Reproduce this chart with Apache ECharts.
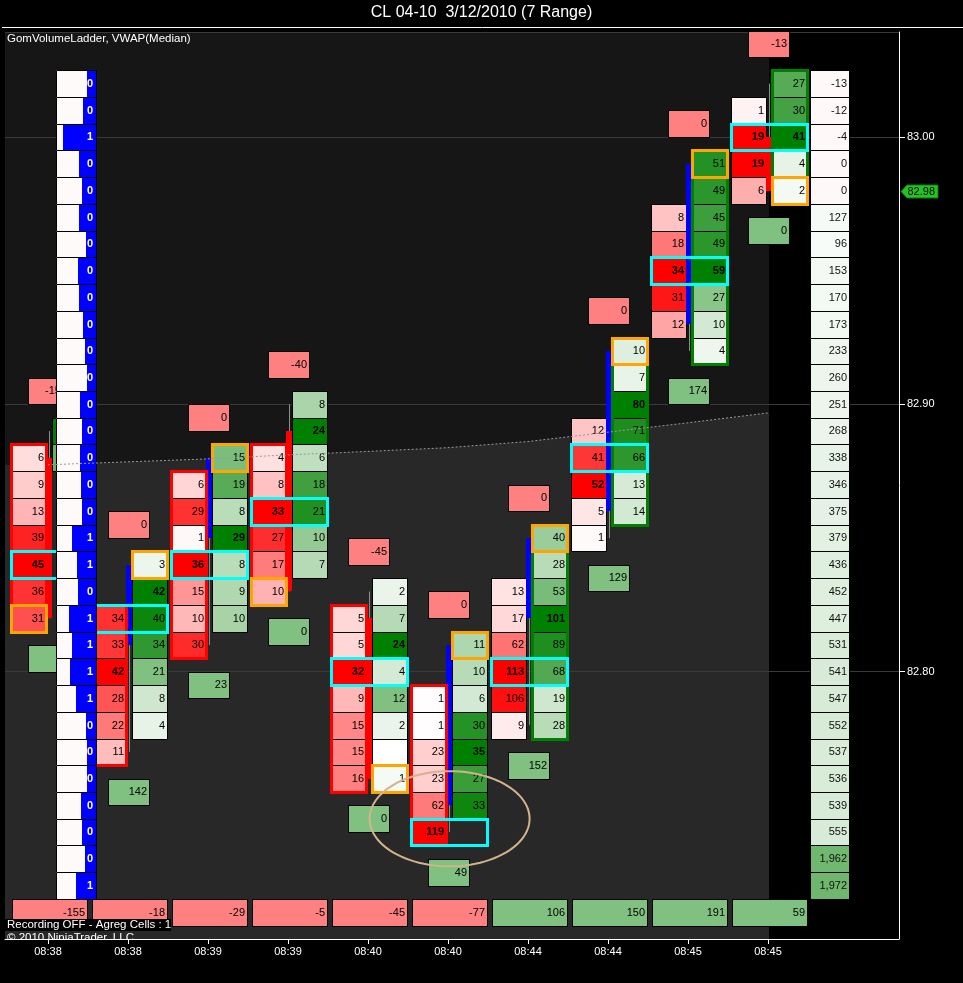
<!DOCTYPE html>
<html>
<head>
<meta charset="utf-8">
<title>CL 04-10 GomVolumeLadder</title>
<script src="https://cdn.jsdelivr.net/npm/echarts@6.0.0/dist/echarts.min.js"></script>
<style>
html,body{margin:0;padding:0;background:#000;overflow:hidden;}
#chart{width:963px;height:983px;}
</style>
</head>
<body>
<div id="chart"></div>
<script>
// ---------------- data ----------------
const barTimes = ['08:38','08:38','08:39','08:39','08:40','08:40','08:44','08:44','08:45','08:45'];
const barOpen  = [82.88, 82.81, 82.85, 82.89, 82.82, 82.75, 82.82, 82.86, 82.93, 83.00];
const barHigh  = [82.89, 82.84, 82.88, 82.90, 82.83, 82.81, 82.85, 82.92, 82.99, 83.02];
const barLow   = [82.82, 82.77, 82.81, 82.83, 82.76, 82.74, 82.78, 82.85, 82.92, 82.98];
const barClose = [82.82, 82.84, 82.88, 82.83, 82.76, 82.81, 82.85, 82.92, 82.99, 82.98];

// bid / ask volume at each price, listed from the bar's high downwards (null = nothing traded)
const bidVolume = [
  [null, 6, 9, 13, 39, 45, 36, 31],
  [null, null, 34, 33, 42, 28, 22, 11],
  [null, 6, 29, 1, 36, 15, 10, 30],
  [null, null, 4, 8, 33, 27, 17, 10],
  [null, 5, 5, 32, 9, 15, 15, 16],
  [null, null, 1, 1, 23, 23, 62, 119],
  [null, null, 13, 17, 62, 113, 106, 9],
  [null, null, null, 12, 41, 52, 5, 1],
  [null, null, 8, 18, 34, 31, 12, null],
  [null, 1, 19, 19, 6]
];
const askVolume = [
  [5, 3, null, null, null, null, null, null],
  [3, 42, 40, 34, 21, 8, 4, null],
  [15, 19, 8, 29, 8, 9, 10, null],
  [8, 24, 6, 18, 21, 10, 7, null],
  [2, 7, 24, 4, 12, 2, 0, 1],
  [11, 10, 6, 30, 35, 27, 33, null],
  [40, 28, 53, 101, 89, 68, 19, 28],
  [10, 7, 80, 71, 66, 13, 14, null],
  [51, 49, 45, 49, 59, 27, 10, 4],
  [27, 30, 41, 4, 2]
];
const lastTradeSide   = ['bid','ask','ask','bid','ask','ask','ask','ask','ask','ask'];
const aboveBarValues  = [-155, 0, 0, -40, -45, 0, 0, 0, 0, -13];
const belowBarValues  = [0, 142, 23, 0, 0, 49, 152, 129, 174, 0];
const barDelta        = [-155, -18, -29, -5, -45, -77, 106, 150, 191, 59];
const vwapMedian      = [82.8774, 82.8785, 82.8796, 82.8811, 82.8824, 82.8838, 82.8861, 82.8896, 82.8931, 82.8968];

const ladderPrices = [83.02, 83.01, 83.00, 82.99, 82.98, 82.97, 82.96, 82.95, 82.94, 82.93, 82.92,
  82.91, 82.90, 82.89, 82.88, 82.87, 82.86, 82.85, 82.84, 82.83, 82.82, 82.81, 82.80, 82.79,
  82.78, 82.77, 82.76, 82.75, 82.74, 82.73, 82.72];
const leftLadderValues = [0, 0, 1, 0, 0, 0, 0, 0, 0, 0, 0, 0, 0, 0, 0, 0, 0, 1, 1, 0, 1, 1, 1, 1, 0, 0, 0, 0, 0, 0, 1];
const leftLadderShare  = [0.23, 0.33, 0.83, 0.43, 0.36, 0.43, 0.26, 0.46, 0.43, 0.33, 0.28, 0.23, 0.41, 0.36,
  0.41, 0.38, 0.36, 0.61, 0.48, 0.46, 0.68, 0.61, 0.66, 0.51, 0.26, 0.23, 0.23, 0.38, 0.36, 0.28, 0.51];
const rightLadderValues = [-13, -12, -4, 0, 0, 127, 96, 153, 170, 173, 233, 260, 251, 268, 338, 346,
  375, 379, 436, 452, 447, 531, 541, 547, 552, 537, 536, 539, 555, 1962, 1972];

const lastPrice = 82.98;
const deltaRowPrice = 82.71;
const ellipseCenter = [5.02, 82.745];
const ellipseRadius = [1.0, 0.0178];

// ---------------- drawing ----------------
const FONT = 'Arial, "Liberation Sans", Helvetica, sans-serif';
const TICK = 0.01;

function bidFill(t){ const g = Math.round(255 * (1 - t)); return 'rgb(255,' + g + ',' + g + ')'; }
function askFill(t){ const rb = Math.round(255 * (1 - t)), g = Math.round(255 - 127 * t); return 'rgb(' + rb + ',' + g + ',' + rb + ')'; }
function ladderFill(v){ if (v <= 0) return '#fff8f8'; return askFill(Math.min(v / 3500, 1)); }

function rowEdges(api, x, price){
  const t = Math.round(api.coord([x, price + TICK / 2])[1]);
  const b = Math.round(api.coord([x, price - TICK / 2])[1]);
  return [t, b];
}
function txt(text, x, y, extra){
  return {type:'text', silent:true, style:Object.assign({
    text:String(text), x:x, y:y, fill:'#000', fontSize:11, fontFamily:FONT, fontWeight:'normal',
    align:'right', verticalAlign:'middle', textAlign:'right', textVerticalAlign:'middle'
  }, extra || {})};
}
function box(x, y, w, h, fill, stroke, lw){
  return {type:'rect', silent:true, shape:{x:x, y:y, width:w, height:h},
    style:{fill:fill || 'none', stroke:stroke || null, lineWidth:lw || 1}};
}

function renderBar(params, api){
  const i = api.value(0);
  const c = Math.round(api.coord([i, barHigh[i]])[0]);
  const bids = bidVolume[i], asks = askVolume[i];
  const n = Math.max(bids.length, asks.length);
  const nums = a => a.filter(v => v != null);
  const maxBid = Math.max(1, ...nums(bids)), maxAsk = Math.max(1, ...nums(asks));
  const BX = c - 37, AX = c + 4, CW = 35;
  const kids = [];
  const rows = [];
  for (let k = 0; k < n; k++){
    const p = +(barHigh[i] - k * TICK).toFixed(2);
    const e = rowEdges(api, i, p);
    rows.push({p:p, t:e[0], b:e[1]});
  }
  // wick
  const yH = api.coord([i, barHigh[i]])[1], yL = api.coord([i, barLow[i]])[1];
  kids.push({type:'line', silent:true, shape:{x1:c + 1.5, y1:yH, x2:c + 1.5, y2:yL}, style:{stroke:'#8c8c8c', lineWidth:1}});
  // cells
  rows.forEach((r, k) => {
    const ym = (r.t + r.b) / 2;
    if (bids[k] != null){
      kids.push(box(BX + 0.5, r.t + 0.5, CW, r.b - r.t, bidFill(bids[k] / maxBid), '#000', 1));
      if (bids[k] > 0) kids.push(txt(bids[k], BX + CW - 2, ym, {fontWeight: bids[k] === maxBid ? 'bold' : 'normal'}));
    }
    if (asks[k] != null){
      kids.push(box(AX + 0.5, r.t + 0.5, CW, r.b - r.t, askFill(asks[k] / maxAsk), '#000', 1));
      if (asks[k] > 0) kids.push(txt(asks[k], AX + CW - 2, ym, {fontWeight: asks[k] === maxAsk ? 'bold' : 'normal'}));
    }
  });
  // candle body
  const yO = Math.round(api.coord([i, barOpen[i]])[1]), yC = Math.round(api.coord([i, barClose[i]])[1]);
  const up = barClose[i] >= barOpen[i];
  kids.push(box(c - 2, Math.min(yO, yC), 6, Math.max(1, Math.abs(yO - yC)), up ? '#0000ff' : '#ff0000'));
  // column outline (bid side red for negative delta, ask side green for positive)
  const neg = barDelta[i] < 0;
  const side = neg ? bids : asks;
  const first = side.findIndex(v => v != null);
  let last = side.length - 1; while (last >= 0 && side[last] == null) last--;
  kids.push(box((neg ? BX : AX) + 0.5, rows[first].t + 0.5, CW, rows[last].b - rows[first].t, 'none', neg ? '#ff0000' : '#008000', 3));
  // point of control
  let poc = 0, best = -1;
  rows.forEach((r, k) => { const tot = (bids[k] || 0) + (asks[k] || 0); if (tot > best){ best = tot; poc = k; } });
  kids.push(box(BX + 0.5, rows[poc].t + 0.5, AX + CW - BX, rows[poc].b - rows[poc].t, 'none', '#00ffff', 3));
  // last trade cell
  const kc = Math.round((barHigh[i] - barClose[i]) / TICK);
  kids.push(box((lastTradeSide[i] === 'bid' ? BX : AX) + 0.5, rows[kc].t + 0.5, CW, rows[kc].b - rows[kc].t, 'none', '#ffa500', 3));
  // box above the bar
  const a = rowEdges(api, i, barHigh[i] + 1.5 * TICK);
  kids.push(box(c - 20 + 0.5, a[0] + 0.5, 41, a[1] - a[0], '#ff8080', '#000', 1));
  kids.push(txt(aboveBarValues[i], c + 19, (a[0] + a[1]) / 2));
  // box below the bar
  const bl = rowEdges(api, i, barLow[i] - 1.5 * TICK);
  kids.push(box(c - 20 + 0.5, bl[0] + 0.5, 41, bl[1] - bl[0], '#80c080', '#000', 1));
  kids.push(txt(belowBarValues[i], c + 19, (bl[0] + bl[1]) / 2));
  // delta row
  const d = rowEdges(api, i, deltaRowPrice);
  kids.push(box(c - 36 + 0.5, d[0] + 0.5, 75, d[1] - d[0], neg ? '#ff8080' : '#80c080', '#000', 1));
  kids.push(txt(barDelta[i], c + 37, (d[0] + d[1]) / 2));
  return {type:'group', children:kids};
}

function renderLeftLadder(params, api){
  const r = params.dataIndex, p = ladderPrices[r];
  const c0 = Math.round(api.coord([0, p])[0]);
  const e = rowEdges(api, 0, p);
  const x0 = c0 + 8, w = 40, bw = Math.round(w * leftLadderShare[r]);
  return {type:'group', children:[
    box(x0, e[0], w, e[1] - e[0], '#fffafa'),
    box(x0 + w - bw, e[0], bw, e[1] - e[0], '#0000ff'),
    box(x0 + 0.5, e[0] + 0.5, w, e[1] - e[0], 'none', '#000', 1),
    txt(leftLadderValues[r], x0 + w - 3, (e[0] + e[1]) / 2, {fill:'#fff', fontWeight:'bold'})
  ]};
}

function renderRightLadder(params, api){
  const r = params.dataIndex, p = ladderPrices[r];
  const cl = Math.round(api.coord([barTimes.length - 1, p])[0]);
  const e = rowEdges(api, 0, p);
  const x0 = cl + 42, w = 39;
  return {type:'group', children:[
    box(x0 + 0.5, e[0] + 0.5, w, e[1] - e[0], ladderFill(rightLadderValues[r]), '#000', 1),
    txt(rightLadderValues[r].toLocaleString('en-US'), x0 + w - 2, (e[0] + e[1]) / 2, {fill:'#111'})
  ]};
}

function renderPanel(params, api){
  const cs = params.coordSys;
  const right = Math.round(api.coord([barTimes.length - 1, 82.8])[0]) + 1;
  return box(cs.x, cs.y, right - cs.x, cs.height, '#161616');
}

function renderVwapArea(params, api){
  const cs = params.coordSys, bottom = cs.y + cs.height;
  const pts = vwapMedian.map((v, i) => api.coord([i, v]));
  const lastPt = pts[pts.length - 1];
  const poly = [[cs.x, pts[0][1]]].concat(pts, [[lastPt[0] + 1, lastPt[1]], [lastPt[0] + 1, bottom], [cs.x, bottom]]);
  return {type:'polygon', silent:true, shape:{points:poly}, style:{fill:'#282828'}};
}

function renderEllipse(params, api){
  const ctr = api.coord([api.value(0), api.value(1)]);
  const rx = api.size([ellipseRadius[0], 0])[0], ry = api.size([0, ellipseRadius[1]])[1];
  const pts = [];
  for (let k = 0; k < 96; k++){ const a = k / 96 * Math.PI * 2; pts.push([ctr[0] + rx * Math.cos(a), ctr[1] + ry * Math.sin(a)]); }
  return {type:'polygon', silent:true, shape:{points:pts}, style:{fill:'none', stroke:'#d2b48c', lineWidth:2}};
}

function renderTag(params, api){
  const cs = params.coordSys;
  const x = cs.x + cs.width, y = Math.round(api.coord([0, api.value(1)])[1]) + 0.5;
  return {type:'group', children:[
    {type:'polygon', silent:true, shape:{points:[[x + 2, y], [x + 8, y - 6.5], [x + 39, y - 6.5], [x + 39, y + 6.5], [x + 8, y + 6.5]]},
      style:{fill:'#22c322', stroke:'#0e7a0e', lineWidth:1}},
    txt(api.value(1).toFixed(2), x + 36, y, {fill:'#000'})
  ]};
}

function renderCorner(params, api){
  const cs = params.coordSys, bottom = cs.y + cs.height;
  return {type:'group', children:[
    {type:'text', silent:true, style:{text:'\u00a9 2010 NinjaTrader, LLC', x:cs.x + 2, y:bottom - 7, fill:'#fff', fontSize:11.5, fontFamily:FONT,
      align:'left', verticalAlign:'top', textAlign:'left', textVerticalAlign:'top'}},
    box(cs.x, bottom - 20, 166, 12, '#000'),
    {type:'text', silent:true, style:{text:'Recording OFF - Agreg Cells : 1', x:cs.x + 2, y:bottom - 14, fill:'#fff', fontSize:11.5, fontFamily:FONT,
      align:'left', verticalAlign:'middle', textAlign:'left', textVerticalAlign:'middle'}}
  ]};
}

const xIdx = barTimes.map((t, i) => i);
const chart = echarts.init(document.getElementById('chart'), null, {renderer:'canvas'});
const option = {
  backgroundColor:'#000',
  animation:false,
  title:[
    {text:'CL 04-10  3/12/2010 (7 Range)', left:'center', top:5, padding:0,
      textStyle:{color:'#fff', fontSize:16, fontWeight:'normal', fontFamily:FONT}},
    {text:'GomVolumeLadder, VWAP(Median)', left:7, top:33, padding:0,
      textStyle:{color:'#fff', fontSize:11.5, fontWeight:'normal', fontFamily:FONT}}
  ],
  grid:{left:5, right:64, top:32, bottom:44, containLabel:false, outerBoundsMode:'none'},
  xAxis:{
    type:'value', min:-0.5375, max:10.6375,
    axisLine:{show:true, onZero:false, lineStyle:{color:'#fff', width:1}},
    axisTick:{show:true, length:5, customValues:xIdx, lineStyle:{color:'#fff'}},
    axisLabel:{show:true, customValues:xIdx, color:'#fff', fontSize:11, fontFamily:FONT, margin:7,
      formatter:v => barTimes[Math.round(v)] || ''},
    splitLine:{show:false}
  },
  yAxis:{
    type:'value', position:'right', min:82.7, max:83.0393, interval:0.1,
    axisLine:{show:true, onZero:false, lineStyle:{color:'#fff', width:1}},
    axisTick:{show:true, length:6, lineStyle:{color:'#fff'}},
    axisLabel:{color:'#fff', fontSize:11, fontFamily:FONT, margin:8, showMinLabel:false, showMaxLabel:false,
      formatter:v => v.toFixed(2)},
    splitLine:{show:true, lineStyle:{color:'#3a3a3a', width:1}}
  },
  graphic:[{type:'line', silent:true, shape:{x1:2, y1:27.5, x2:963, y2:27.5}, style:{stroke:'#fff', lineWidth:1}}],
  series:[
    {type:'custom', name:'panel', z:-3, clip:true, silent:true, data:[[0, 82.8]], renderItem:renderPanel},
    {type:'custom', name:'vwapArea', z:-2, clip:true, silent:true, data:[[0, vwapMedian[0]]], renderItem:renderVwapArea},
    {type:'custom', name:'bars', z:3, clip:true, silent:true, data:barHigh.map((h, i) => [i, h]), renderItem:renderBar},
    {type:'custom', name:'leftLadder', z:4, clip:true, silent:true, data:ladderPrices.map(p => [0, p]), renderItem:renderLeftLadder},
    {type:'custom', name:'rightLadder', z:4, clip:true, silent:true, data:ladderPrices.map(p => [barTimes.length - 1, p]), renderItem:renderRightLadder},
    {type:'line', name:'VWAP(Median)', z:6, silent:true, symbol:'none', data:vwapMedian.map((v, i) => [i, v]),
      lineStyle:{color:'#9a9a9a', width:1, type:[2, 2]}},
    {type:'custom', name:'annotation', z:7, clip:false, silent:true, data:[ellipseCenter], renderItem:renderEllipse},
    {type:'custom', name:'lastPrice', z:8, clip:false, silent:true, data:[[0, lastPrice]], renderItem:renderTag},
    {type:'custom', name:'corner', z:9, clip:true, silent:true, data:[[0, 82.8]], renderItem:renderCorner}
  ]
};
chart.setOption(option);
</script>
</body>
</html>
